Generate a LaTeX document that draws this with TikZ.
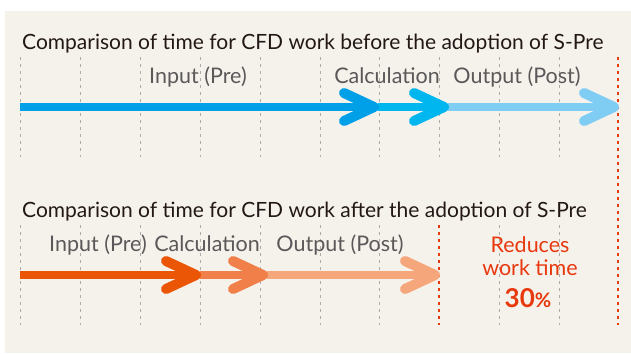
\documentclass[tikz,border=0pt]{standalone}
\usepackage{fontspec}
\setmainfont{Lato}
\definecolor{bg}{HTML}{F5F2EC}
\definecolor{ink}{HTML}{231815}
\definecolor{lbl}{HTML}{5A5858}
\definecolor{gridc}{HTML}{AEACA8}
\definecolor{redc}{HTML}{E8380D}
\definecolor{blueA}{HTML}{00A0E9}
\definecolor{blueB}{HTML}{00B6EE}
\definecolor{blueC}{HTML}{80CDF3}
\definecolor{orA}{HTML}{EA5506}
\definecolor{orB}{HTML}{F07F4A}
\definecolor{orC}{HTML}{F5A67A}
\tikzset{
  seg/.style={line width=8pt, line cap=butt},
  chev/.style={line width=10pt, line cap=round, line join=round},
  gridline/.style={gridc, line width=1pt, dash pattern=on 3pt off 4pt},
  redline/.style={redc, line width=2pt, dash pattern=on 3pt off 4pt},
  title/.style={anchor=base west, inner sep=0pt, text=ink, font=\fontsize{21}{24}\selectfont},
  label/.style={anchor=base, inner sep=0pt, text=lbl, font=\fontsize{21.5}{24}\selectfont},
  redtext/.style={anchor=base, inner sep=0pt, text=redc, font=\fontsize{21.5}{24}\selectfont},
}
\newcommand\mychev[2]{\draw[chev,#1] ([shift={(-34,-14)}]#2) -- ([xshift=-4]#2) -- ([shift={(-34,14)}]#2);}
\begin{document}
\begin{tikzpicture}[x=1pt,y=-1pt]
\useasboundingbox (0,0) rectangle (631,353);
\fill[bg] (5,11) rectangle (631,353);
% grids
\foreach \gx in {20,80,140,200,260,320,379,439,499,559}{
  \draw[gridline] (\gx,57) -- (\gx,157);
}
\foreach \gx in {20,80,140,200,260,320,379,499,559}{
  \draw[gridline] (\gx,225) -- (\gx,325);
}
\coordinate (rtop) at (618,57);
\coordinate (rbot) at (618,325);
\coordinate (mtop) at (439,225);
\coordinate (mbot) at (439,325);
\draw[redline] (rtop) -- (rbot);
\draw[redline] (mtop) -- (mbot);
% titles
\node[title] (t1) at (22,49) {Comparison of time for CFD work before the adoption of S-Pre};
\node[title] (t2) at (22,217) {Comparison of time for CFD work after the adoption of S-Pre};
% labels top
\node[label] (l1) at (198,83) {Input (Pre)};
\node[label] (l2) at (387,83) {Calculation};
\node[label] (l3) at (517,83) {Output (Post)};
% labels bottom
\node[label] (m1) at (98,251) {Input (Pre)};
\node[label] (m2) at (207,251) {Calculation};
\node[label] (m3) at (340,251) {Output (Post)};
% red text
\node[redtext] (r1) at (530,252) {Reduces};
\node[redtext] (r2) at (530,275) {work time};
\node[redtext, font=\fontsize{26}{30}\selectfont\bfseries] (r3) at (528,307) {30{\fontsize{20}{22}\selectfont\%}};
% blue arrows
\coordinate (b0) at (20,107);
\coordinate (b1) at (378,107);
\coordinate (b2) at (448,107);
\coordinate (b3) at (618,107);
\draw[seg,blueC] (b2) -- ([xshift=-4]b3);
\mychev{blueC}{b3}
\draw[seg,blueB] (b1) -- ([xshift=-4]b2);
\mychev{blueB}{b2}
\draw[seg,blueA] (b0) -- ([xshift=-4]b1);
\mychev{blueA}{b1}
% orange arrows
\coordinate (o0) at (20,275);
\coordinate (o1) at (200,275);
\coordinate (o2) at (267,275);
\coordinate (o3) at (439,275);
\draw[seg,orC] (o2) -- ([xshift=-4]o3);
\mychev{orC}{o3}
\draw[seg,orB] (o1) -- ([xshift=-4]o2);
\mychev{orB}{o2}
\draw[seg,orA] (o0) -- ([xshift=-4]o1);
\mychev{orA}{o1}
\end{tikzpicture}
\end{document}
